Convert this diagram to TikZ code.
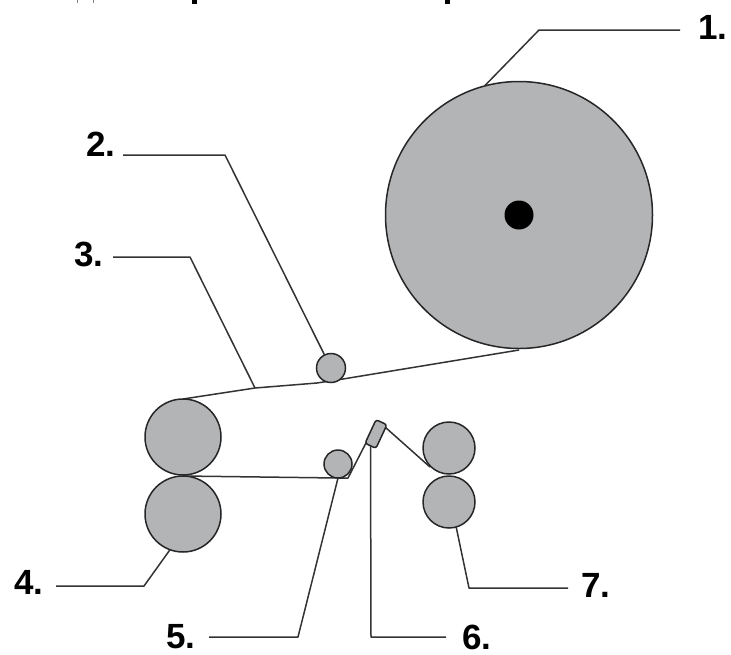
\documentclass[tikz,border=0pt]{standalone}
\usepackage{fontspec}
\setmainfont{Liberation Sans}
\definecolor{rollgray}{RGB}{178,180,182}
\tikzset{
  px/.style={x=1pt,y=-1pt},
  roller/.style={circle,draw=black!85,line width=1.5pt,fill=rollgray,inner sep=0pt,outer sep=0pt,minimum size=#1 pt},
  web/.style={draw=black!80,line width=1.5pt,line join=round},
  leader/.style={draw=black!80,line width=1.5pt,line join=round},
  lab/.style={font=\fontsize{35}{35}\selectfont\bfseries,inner sep=0pt,text=black}
}
\begin{document}
\begin{tikzpicture}[px]
\useasboundingbox (0,0) rectangle (731,654);
\fill[black] (192,0) rectangle (197,3.5);
\fill[black] (445,0) rectangle (450,3.5);
\fill[black!50] (76.5,0) rectangle (78,2.5);
\fill[black!50] (92.5,0) rectangle (94,2.5);
\coordinate (l1) at (680,30);
\coordinate (k1) at (539,30);
\coordinate (l2) at (123,155);
\coordinate (k2) at (225,155);
\coordinate (l3) at (113,257);
\coordinate (k3) at (190,257);
\coordinate (e3) at (255,388);
\coordinate (l4) at (56,586);
\coordinate (k4) at (144,586);
\coordinate (l5) at (209,637);
\coordinate (k5) at (298,637);
\coordinate (l6) at (446,637);
\coordinate (k6) at (371,637);
\coordinate (l7) at (568,588);
\coordinate (k7) at (469,588);
\coordinate (w1) at (519,350);
\coordinate (w2) at (343,379);
\coordinate (w3) at (317,383);
\coordinate (w4) at (255,388);
\coordinate (w5) at (183,399);
\coordinate (w6) at (183,476);
\coordinate (w7) at (338,478);
\coordinate (w8) at (348,478);
\coordinate (w9) at (367,441);
\coordinate (w10) at (385,427);
\coordinate (w11) at (430,467);
\draw[web] (w1) -- (w2) -- (w3) -- (w4) -- (w5);
\draw[web] (w6) -- (w7) -- (w8) -- (w9);
\draw[web] (w10) -- (w11);
\node[roller=267] (r1) at (519,215) {};
\node[circle,fill=black,inner sep=0pt,minimum size=29pt] (hub) at (519,215) {};
\node[roller=29] (r2) at (331,368) {};
\node[roller=76] (r3) at (183,437) {};
\node[roller=76] (r4) at (183,514) {};
\node[roller=28] (r5) at (338,464) {};
\node[roller=52] (r7a) at (449,448) {};
\node[roller=52] (r7b) at (449,502) {};
\node[draw=black!85,line width=1.5pt,fill=rollgray,rounded corners=2.5pt,minimum width=12pt,minimum height=26pt,inner sep=0pt,outer sep=0pt,rotate=-25] (blade) at (376,434) {};
\draw[leader] (l1) -- (k1) -- (r1.105);
\draw[leader] (l2) -- (k2) -- (r2);
\draw[leader] (l3) -- (k3) -- (e3);
\draw[leader] (l4) -- (k4) -- (r4.250);
\draw[leader] (l5) -- (k5) -- (r5.south);
\draw[leader] (l6) -- (k6) -- (blade.south);
\draw[leader] (l7) -- (k7) -- (r7b.286);
\node[lab] (t1) at (713,27) {1.};
\node[lab] (t2) at (101,144) {2.};
\node[lab] (t3) at (89,254) {3.};
\node[lab] (t4) at (29,582) {4.};
\node[lab] (t5) at (181,637) {5.};
\node[lab] (t6) at (477,637) {6.};
\node[lab] (t7) at (596,585) {7.};
\end{tikzpicture}
\end{document}
